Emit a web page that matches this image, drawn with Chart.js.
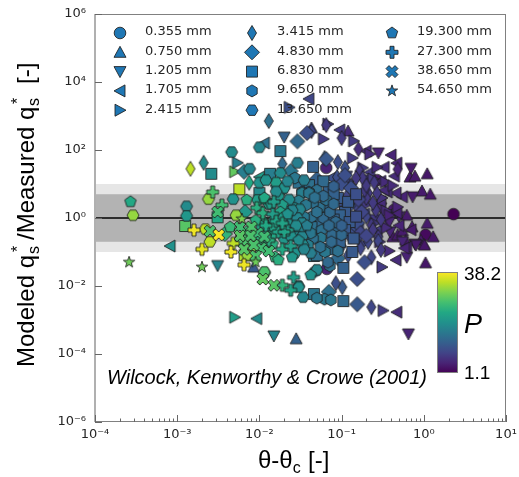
<!DOCTYPE html>
<html lang="en">
<head>
    <meta charset="UTF-8">
    <title>Modeled vs measured transport</title>
    <script src="https://cdn.jsdelivr.net/npm/chart.js"></script>
    <style>
        body { margin: 0; background: #fff; }
        canvas { display: block; filter: blur(0.4px); }
    </style>
</head>
<body>
    <canvas id="chart" width="519" height="477"></canvas>

    <script>
        // each row: theta excess, modeled/measured ratio, P
        const d0355 = [[2.3,1.3,1.1],[1.05,.32,1.3],[.43,1.7,2],[.27,13,2],[.065,30,2.5],[.066,.032,2.5]];
        const d0750 = [[.043,445,5],[.12,360,3],[1.1,20,1.8],[.68,16,2],[.78,17,2],[.95,6.2,2],[1.2,5,1.8],[.62,1.2,2],[1.1,.7,2],[.42,.28,2],[.48,.32,2],[1.3,.28,1.8],[.92,.22,2],[1,.17,2],[1.05,.048,1.8],[1.02,.16,1.8],[.0085,.036,7],[.028,.00028,8],[.55,.42,2],[.72,.55,2],[.6,.22,2],[.35,.6,3]];
        const d1205 = [[.02,240,8],[.28,82,2.5],[.7,29,2],[.115,17,5],[.73,4.2,2],[.38,.76,2.5],[.39,.39,2.5],[.78,.17,2],[.62,.07,2.5],[.8,.16,2],[.65,.00039,2.5],[.015,.00034,13],[.0031,.04,13],[.016,6.6,13],[.19,13,4],[.3,2,3],[.5,1.1,2.5],[.25,.9,4],[.1,2.4,6],[.55,.2,2.5],[.09,.22,7],[.045,.9,10]];
        const d1705 = [[.04,3200,5],[.095,390,4],[.0115,160,10],[.01,16,17],[.2,93,3],[.4,71,2.5],[.47,41,2.5],[.33,31,3],[.44,17,3],[.074,15,6],[.55,4.2,2.5],[.46,5.4,2.7],[.36,5.8,3],[.33,6.6,3],[.42,1.5,3],[.47,1.4,2.5],[.62,.14,2.5],[.58,.13,2.5],[.46,.058,3],[.47,.0017,3],[.0093,.0011,14],[.00082,.15,15],[.3,3,3],[.22,22,4],[.27,.42,4],[.5,.6,2.5],[.3,12,3],[.19,1.3,5],[.7,.45,2],[.16,.45,5]];
        const d2415 = [[.023,1800,6],[.068,580,4],[.06,210,4],[.14,185,4],[.22,76,3],[.135,58,4],[.27,31,3],[.34,11.5,3],[.31,3.9,3.5],[.35,1.6,3],[.38,1.2,2.5],[.18,.17,5],[.38,.107,3],[.31,.036,4],[.32,.0019,4],[.005,.0012,17],[.005,23,26],[.0054,42,12],[.2,2.5,4],[.25,.7,4],[.18,30,4],[.48,2.1,2.5],[.29,.2,3.5],[.42,9,3],[.24,14,4],[.15,.9,5],[.35,.52,3],[.12,12,5]];
        const d3415 = [[.013,710,10],[.043,360,5],[.065,540,4],[.1,225,4],[.16,107,3],[.019,39,9],[.062,58,8],[.09,44,6],[.48,27,2.5],[.165,24,4],[.18,15,4],[.15,15,4],[.088,16,6],[.27,5.4,4],[.21,5.4,4],[.2,3.9,4],[.145,4.2,4],[.19,6.6,4],[.2,9,4],[.115,4.2,5],[.26,1.7,4],[.165,1.7,5],[.155,2.1,5],[.23,.62,4],[.28,.28,4],[.28,.21,5],[.3,.115,4],[.23,.07,5],[.102,.0093,7],[.085,.012,6],[.23,.0024,5],[.00145,28,33],[.0021,42,14],[.0075,11,19],[.02,7.6,14],[.12,1,6],[.13,3,5],[.14,.5,6],[.2,1.1,5],[.24,2.8,4],[.3,.9,4],[.25,11,4],[.13,9,5],[.17,.13,5],[.11,30,6],[.24,.45,4],[.12,.08,6],[.21,.2,5],[.1,.15,7]];
        const d4830 = [[.038,315,6],[.029,180,9],[.024,24,11],[.0065,23,12],[.065,54,7],[.1,10,6],[.13,7.6,6],[.175,1.5,5],[.155,.71,6],[.17,.36,5],[.19,.05,6],[.155,.016,6],[.155,.0029,7],[.09,.065,9],[.07,.0067,10],[.0067,1.5,16],[.0038,.34,21],[.11,18,6],[.2,.3,5],[.13,.3,6],[.12,2.2,6],[.09,.5,8],[.16,3.5,5],[.05,14,8],[.05,.25,9]];
        const d6830 = [[.018,93,11],[.0026,20,14],[.0135,20,12],[.045,32,8],[.07,7.6,8],[.04,9.3,10],[.09,3.9,7],[.065,2.1,9],[.11,1.5,7],[.095,1.2,8],[.125,.76,7],[.11,.44,7],[.095,.2,8],[.045,.62,10],[.056,.76,9],[.043,.54,10],[.135,.1,7],[.105,.034,8],[.105,.0036,9],[.046,.0058,11],[.046,.076,11],[.05,.08,10],[.01,5.4,14],[.0057,7,33],[.0031,1.05,19],[.00125,.58,25],[.0165,.54,18],[.0145,.5,18],[.006,.22,24],[.0066,.08,32],[.08,.9,8],[.12,3,7],[.14,.25,7],[.08,5,8],[.06,12,9],[.07,.12,9],[.15,1.1,6],[.085,.5,9],[.03,11,10],[.15,5,6]];
        const d9650 = [[.027,15,11],[.05,6.6,10],[.04,5.8,10],[.033,5.8,10],[.054,2,10],[.065,3.4,10],[.06,4.4,9],[.045,2.8,10],[.043,1.07,10],[.06,1,9],[.035,1.07,11],[.072,1.5,9],[.085,.76,9],[.076,.32,9],[.057,.44,10],[.056,.26,11],[.037,.51,12],[.09,.107,10],[.063,.1,11],[.072,.039,10],[.068,.05,9],[.062,.0041,11],[.074,.0039,11],[.05,.0044,11],[.048,.027,11],[.033,5.4,12],[.04,5.4,11],[.045,.25,10],[.05,1.5,10],[.07,.6,9],[.08,2.6,9],[.042,.36,11],[.03,3.2,12],[.037,2.4,11],[.047,4,10],[.075,.2,9],[.039,.16,12],[.1,.32,9],[.1,.6,8],[.055,.14,10],[.08,8.5,8]];
        const d13650 = [[.01,120,13],[.0046,87,14],[.029,42,12],[.018,21,14],[.0076,28,13],[.016,11,17],[.01,11,15],[.0048,3.6,15],[.02,7.6,15],[.026,2,14],[.031,1.8,13],[.0013,2.2,14],[.0013,1.15,16],[.0095,3.4,17],[.024,1,15],[.029,1,13],[.025,1.7,13],[.033,.71,13],[.026,.51,14],[.031,.44,13],[.029,.28,14],[.033,.28,13],[.034,.16,14],[.027,.093,15],[.042,.093,12],[.05,.03,13],[.034,.0047,13],[.03,.01,15],[.03,.0093,15],[.00029,1.2,30],[.0024,3.6,30],[.0085,.15,29],[.0052,1.2,30],[.0072,.08,30],[.0025,.2,33],[.0022,.47,33],[.0115,.024,24],[.0115,.026,24],[.02,1.6,15],[.022,.7,15],[.017,4.4,16],[.013,2.6,17],[.015,.85,17],[.016,6,14],[.023,3.5,14],[.028,.6,14],[.02,.25,16],[.024,.3,15],[.035,.12,13],[.014,.3,19],[.011,.75,19],[.012,13,15],[.022,12,13],[.035,13,12],[.019,.75,16]];
        const d19300 = [[.00027,3,19],[.0044,.54,22],[.007,3.4,20],[.0115,3.6,19],[.0115,3.9,19],[.019,2.4,17],[.018,1.5,18],[.019,1,17],[.0105,.58,18],[.0145,.17,20],[.0115,.18,21],[.0155,.071,21],[.017,.058,20],[.042,.021,15],[.012,.3,19],[.022,1.3,15],[.014,2.5,17],[.009,.85,20],[.007,.4,22],[.03,.22,14],[.025,.07,16],[.015,.55,18],[.038,.6,12]];
        const d27300 = [[.0027,5.8,24],[.0035,2.4,23],[.0093,2,20],[.011,1.4,20],[.0145,1.3,17],[.017,.39,18],[.022,.44,17],[.02,.39,18],[.019,.12,19],[.024,.15,17],[.0016,.44,37],[.002,.12,36],[.0048,.18,33],[.0045,.1,37],[.0065,.042,37],[.026,.018,17],[.019,.0105,21],[.024,.0075,18],[.012,.6,19],[.016,.8,18],[.013,.22,20],[.01,.25,21],[.015,3,17],[.019,.7,18]];
        const d38650 = [[.0031,1.5,23],[.0025,.41,24],[.0032,.32,38],[.0058,.54,23],[.0095,.36,22],[.0072,.22,24],[.0105,.13,23],[.013,.107,23],[.009,.076,24],[.011,.016,26],[.015,.0105,25],[.0058,.3,25],[.008,.55,24],[.0065,.12,25],[.0115,.28,23],[.0085,.16,24],[.0078,.3,24]];
        const d54650 = [[.00026,.05,27],[.002,.036,27],[.009,.05,27],[.0061,.94,28]];

        const sizeLabels = ['0.355 mm', '0.750 mm', '1.205 mm', '1.705 mm', '2.415 mm', '3.415 mm', '4.830 mm',
            '6.830 mm', '9.650 mm', '13.650 mm', '19.300 mm', '27.300 mm', '38.650 mm', '54.650 mm'];
        const sizeData = [d0355, d0750, d1205, d1705, d2415, d3415, d4830, d6830, d9650, d13650, d19300, d27300, d38650, d54650];
        const shapes = ['o', '^', 'v', '<', '>', 'd', 'D', 's', 'h', 'H', 'p', 'P', 'X', '*'];

        const xMajor = [1e-4, 1e-3, 1e-2, 1e-1, 1e0, 1e1];
        const xMinorSteps = [2, 3, 4, 5, 6, 7, 8, 9];
        const yMajor = [1e-6, 1e-4, 1e-2, 1e0, 1e2, 1e4, 1e6];
        const innerBand = [0.2, 5];
        const outerBand = [0.1, 10];
        const pMin = 1.1;
        const pMax = 38.2;

        const viridis = ['#440154', '#482475', '#414487', '#355f8d', '#2a788e', '#21918c', '#22a884', '#44bf70', '#7ad151', '#bddf26', '#fde725'];

        function viridisAt(t) {
            t = Math.min(1, Math.max(0, t)) * (viridis.length - 1);
            const i = Math.min(viridis.length - 2, Math.floor(t));
            const f = t - i;
            const rgb = [1, 3, 5].map(k => {
                const a = parseInt(viridis[i].substr(k, 2), 16);
                const b = parseInt(viridis[i + 1].substr(k, 2), 16);
                return Math.round(a + (b - a) * f);
            });
            return `rgb(${rgb.join(',')})`;
        }

        // power norm, the mid range of the bar sits low
        function colorForP(p) {
            return viridisAt(Math.pow((p - pMin) / (pMax - pMin), 0.7));
        }

        function polygon(ctx, pts) {
            ctx.beginPath();
            pts.forEach((p, i) => i ? ctx.lineTo(p[0], p[1]) : ctx.moveTo(p[0], p[1]));
            ctx.closePath();
        }

        function regular(n, r, start) {
            const pts = [];
            for (let i = 0; i < n; i++) {
                const a = start + i * 2 * Math.PI / n;
                pts.push([r * Math.cos(a), r * Math.sin(a)]);
            }
            return pts;
        }

        const up = -Math.PI / 2;
        const outlines = {
            '^': [[0, -6], [6, 5], [-6, 5]],
            'v': [[0, 6], [6, -5], [-6, -5]],
            '<': [[-6, 0], [5, -6], [5, 6]],
            '>': [[6, 0], [-5, -6], [-5, 6]],
            'd': [[0, -7.5], [4.5, 0], [0, 7.5], [-4.5, 0]],
            'D': [[0, -7.5], [7.5, 0], [0, 7.5], [-7.5, 0]],
            's': [[-5.5, -5.5], [5.5, -5.5], [5.5, 5.5], [-5.5, 5.5]],
            'h': regular(6, 6, up),
            'H': regular(6, 6, 0),
            'p': regular(5, 6, up),
            'P': [[-2, -6], [2, -6], [2, -2], [6, -2], [6, 2], [2, 2], [2, 6], [-2, 6], [-2, 2], [-6, 2], [-6, -2], [-2, -2]],
            'X': [[-3, -6], [0, -3], [3, -6], [6, -3], [3, 0], [6, 3], [3, 6], [0, 3], [-3, 6], [-6, 3], [-3, 0], [-6, -3]],
            '*': regular(10, 1, up).map((p, i) => i % 2 ? [p[0] * 2.4, p[1] * 2.4] : [p[0] * 6, p[1] * 6])
        };

        function traceShape(ctx, shape) {
            if (shape === 'o') {
                ctx.beginPath();
                ctx.arc(0, 0, 5.8, 0, 2 * Math.PI);
            } else {
                polygon(ctx, outlines[shape]);
            }
        }

        function paintMarker(ctx, shape, color, x, y) {
            ctx.save();
            ctx.translate(x, y);
            traceShape(ctx, shape);
            ctx.fillStyle = color;
            ctx.fill();
            ctx.lineWidth = 1;
            ctx.lineJoin = 'miter';
            ctx.strokeStyle = 'rgba(30,30,30,0.85)';
            ctx.stroke();
            ctx.restore();
        }

        const markerCache = {};
        function markerImage(shape, color) {
            const key = shape + color;
            if (!markerCache[key]) {
                const c = document.createElement('canvas');
                c.width = 20;
                c.height = 20;
                paintMarker(c.getContext('2d'), shape, color, 10, 10);
                markerCache[key] = c;
            }
            return markerCache[key];
        }

        function isPower(v) {
            const l = Math.log10(v);
            return Math.abs(l - Math.round(l)) < 1e-9;
        }

        const superDigits = { '-': '\u207b', '0': '\u2070', '1': '\u00b9', '2': '\u00b2', '3': '\u00b3', '4': '\u2074', '5': '\u2075', '6': '\u2076' };
        function powerLabel(v) {
            if (!isPower(v)) return '';
            return '10' + String(Math.round(Math.log10(v))).split('').map(c => superDigits[c]).join('');
        }

        const bigFont = '24px "Liberation Sans"';
        const smallFont = '16px "Liberation Sans"';

        const bandsPlugin = {
            id: 'bands',
            beforeDatasetsDraw(chart) {
                const { ctx, chartArea: a, scales: { y } } = chart;
                ctx.save();
                ctx.fillStyle = '#e6e6e6';
                ctx.fillRect(a.left, y.getPixelForValue(outerBand[1]), a.width, y.getPixelForValue(outerBand[0]) - y.getPixelForValue(outerBand[1]));
                ctx.fillStyle = '#b3b3b3';
                ctx.fillRect(a.left, y.getPixelForValue(innerBand[1]), a.width, y.getPixelForValue(innerBand[0]) - y.getPixelForValue(innerBand[1]));
                ctx.strokeStyle = '#000';
                ctx.lineWidth = 1.5;
                ctx.beginPath();
                ctx.moveTo(a.left, y.getPixelForValue(1));
                ctx.lineTo(a.right, y.getPixelForValue(1));
                ctx.stroke();
                ctx.restore();
            }
        };

        const framePlugin = {
            id: 'frame',
            afterDatasetsDraw(chart) {
                const { ctx, chartArea: a, scales: { x, y } } = chart;
                ctx.save();

                // legend, filled by column
                sizeLabels.forEach((label, i) => {
                    const col = i < 5 ? 0 : i < 10 ? 1 : 2;
                    const row = i < 5 ? i : i < 10 ? i - 5 : i - 10;
                    const my = 33 + row * 19.3;
                    paintMarker(ctx, shapes[i], '#1f77b4', [120, 252, 392][col], my);
                    ctx.font = '13px "DejaVu Sans"';
                    ctx.fillStyle = '#262626';
                    ctx.textAlign = 'left';
                    ctx.textBaseline = 'middle';
                    ctx.fillText(label, [145, 277, 417][col], my - 1);
                });

                // spines and inward ticks
                ctx.strokeStyle = '#808080';
                ctx.lineWidth = 1;
                ctx.strokeRect(a.left + 0.5, a.top + 0.5, a.width - 1, a.height - 1);
                ctx.strokeStyle = '#b0b0b0';
                ctx.lineWidth = 2;
                ctx.beginPath();
                ctx.moveTo(a.left, a.top);
                ctx.lineTo(a.left, a.bottom);
                ctx.stroke();

                ctx.strokeStyle = '#666';
                ctx.lineWidth = 1;
                ctx.beginPath();
                xMajor.forEach(v => {
                    const px = Math.round(x.getPixelForValue(v)) + 0.5;
                    ctx.moveTo(px, a.bottom);
                    ctx.lineTo(px, a.bottom - 7);
                    if (v < 10) {
                        xMinorSteps.forEach(m => {
                            const mx = Math.round(x.getPixelForValue(v * m)) + 0.5;
                            ctx.moveTo(mx, a.bottom);
                            ctx.lineTo(mx, a.bottom - 3.5);
                        });
                    }
                });
                yMajor.forEach(v => {
                    const py = Math.round(y.getPixelForValue(v)) + 0.5;
                    ctx.moveTo(a.left, py);
                    ctx.lineTo(a.left + 7, py);
                });
                ctx.stroke();

                // colour bar
                const barL = 437, barT = 272, barW = 21, barH = 101;
                const grad = ctx.createLinearGradient(0, barT + barH, 0, barT);
                viridis.forEach((c, i) => grad.addColorStop(i / (viridis.length - 1), c));
                ctx.fillStyle = grad;
                ctx.fillRect(barL, barT, barW, barH);
                ctx.strokeStyle = '#808080';
                ctx.strokeRect(barL + 0.5, barT + 0.5, barW - 1, barH - 1);

                ctx.fillStyle = '#000';
                ctx.textAlign = 'left';
                ctx.textBaseline = 'alphabetic';
                ctx.font = '19px "Liberation Sans"';
                ctx.fillText(String(pMax), 464, 280);
                ctx.fillText(String(pMin), 464, 379);
                ctx.font = 'italic 27px "Liberation Sans"';
                ctx.fillText('P', 464, 333);

                ctx.font = 'italic 20px "Liberation Sans"';
                ctx.fillText('Wilcock, Kenworthy & Crowe (2001)', 107, 384);

                // x title
                ctx.font = bigFont;
                ctx.fillText('\u03b8-\u03b8', 258, 468);
                const thetaWidth = ctx.measureText('\u03b8-\u03b8').width;
                ctx.font = smallFont;
                ctx.fillText('c', 258 + thetaWidth, 473);
                ctx.font = bigFont;
                ctx.fillText('[-]', 308, 468);

                // y title, pieces placed along the rotated baseline
                ctx.translate(34, 367);
                ctx.rotate(-Math.PI / 2);
                ctx.font = bigFont;
                ctx.fillText('Modeled q', 0, 0);
                ctx.fillText('/Measured q', 127, 0);
                ctx.fillText('[-]', 283, 0);
                ctx.font = smallFont;
                ctx.fillText('s', 113, 5);
                ctx.fillText('s', 261, 5);
                ctx.fillText('*', 115, -11);
                ctx.fillText('*', 263, -11);

                ctx.restore();
            }
        };

        const tickFont = { family: '"DejaVu Sans"', size: 13 };

        function noEdgePadding(s) {
            s.paddingLeft = s.paddingRight = s.paddingTop = s.paddingBottom = 0;
        }

        new Chart(document.getElementById('chart'), {
            type: 'scatter',
            data: {
                datasets: sizeData.map((rows, i) => ({
                    label: sizeLabels[i],
                    data: rows.map(r => ({ x: r[0], y: r[1], p: r[2] })),
                    order: sizeData.length - i,
                    pointStyle: c => markerImage(shapes[i], colorForP(c.raw ? c.raw.p : pMin))
                }))
            },
            options: {
                responsive: false,
                animation: false,
                layout: { padding: { left: 0, right: 13, top: 14, bottom: 0 } },
                plugins: { legend: { display: false }, tooltip: { enabled: false } },
                scales: {
                    x: {
                        type: 'logarithmic',
                        min: 1e-4,
                        max: 1e1,
                        grid: { display: false, drawTicks: false },
                        border: { display: false },
                        afterBuildTicks: s => { s.ticks = xMajor.map(v => ({ value: v })); },
                        afterFit: s => { s.height = 55; noEdgePadding(s); },
                        ticks: { autoSkip: false, maxRotation: 0, padding: 5, font: tickFont, color: '#262626', callback: powerLabel }
                    },
                    y: {
                        type: 'logarithmic',
                        min: 1e-6,
                        max: 1e6,
                        grid: { display: false, drawTicks: false },
                        border: { display: false },
                        afterBuildTicks: s => { s.ticks = yMajor.map(v => ({ value: v })); },
                        afterFit: s => { s.width = 95; noEdgePadding(s); },
                        ticks: { autoSkip: false, padding: 9, font: tickFont, color: '#262626', callback: powerLabel }
                    }
                }
            },
            plugins: [bandsPlugin, framePlugin]
        });
    </script>
</body>
</html>
